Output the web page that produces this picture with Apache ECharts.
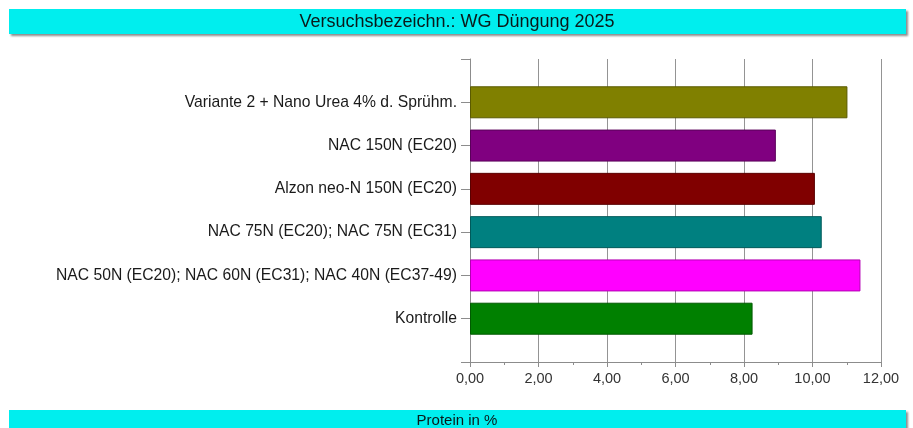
<!DOCTYPE html>
<html>
<head>
<meta charset="utf-8">
<script src="https://cdn.jsdelivr.net/npm/echarts@6.0.0/dist/echarts.min.js"></script>
<style>
	html, body { margin: 0; padding: 0; background: #ffffff; }
	#main { width: 913px; height: 428px; }
</style>
</head>
<body>
<div id="main"></div>
<script>
// Varianten, von oben nach unten wie im Bild
var categories = [
	'Variante 2 + Nano Urea 4% d. Sprühm.',
	'NAC 150N (EC20)',
	'Alzon neo-N 150N (EC20)',
	'NAC 75N (EC20); NAC 75N (EC31)',
	'NAC 50N (EC20); NAC 60N (EC31); NAC 40N (EC37-49)',
	'Kontrolle'
];
var proteinValues = [11.02, 8.93, 10.07, 10.27, 11.40, 8.25];
var xTicks = [0, 2, 4, 6, 8, 10, 12];
var chartTitle = 'Versuchsbezeichn.: WG Düngung 2025';
var axisTitle = 'Protein in %';

function ProteinChart(divId, title, xTitle) {
	var _title;
	var _xTitle;
	var _categories = [];
	var _values = [];
	var chartOption;
	var myChart = echarts.init(document.getElementById(divId));

	var barColors = ['#808000', '#800080', '#800000', '#008080', '#ff00ff', '#008000'];
	var borderColors = ['#5a5a00', '#5a005a', '#5a0000', '#005a5a', '#b300b3', '#005a00'];

	// leere Kategorie oben und unten, damit die Achse Luft hat
	function dataFormat() {
		_categories.push('');
		_values.push(null);
		for (var i = 0; i < categories.length; i++) {
			_categories.push(categories[i]);
			_values.push({
				value : proteinValues[i],
				itemStyle : {
					color : barColors[i],
					borderColor : borderColors[i],
					borderWidth : 1
				}
			});
		}
		_categories.push('');
		_values.push(null);
	}

	function fmt(v) {
		return v.toFixed(2).replace('.', ',');
	}

	function banner(y, h, textY, size, text) {
		return {
			type : 'group',
			children : [
				{
					type : 'rect',
					shape : { x : 9, y : y, width : 897, height : h },
					style : {
						fill : '#00eeee',
						shadowColor : 'rgba(0,0,0,0.45)',
						shadowBlur : 2,
						shadowOffsetX : 2,
						shadowOffsetY : 2
					}
				},
				{
					type : 'text',
					x : 457,
					y : textY,
					style : {
						text : text,
						fill : '#0a1a1a',
						font : size + 'px "Liberation Sans", Arial, sans-serif',
						textAlign : 'center',
						textVerticalAlign : 'middle'
					}
				}
			]
		};
	}

	function initOption() {
		chartOption = {
			animation : false,
			textStyle : { fontFamily : '"Liberation Sans", Arial, sans-serif' },
			grid : {
				left : 470,
				right : 32,
				top : 59,
				height : 303
			},
			xAxis : {
				type : 'value',
				min : xTicks[0],
				max : xTicks[xTicks.length - 1],
				interval : 2,
				axisLine : { show : true, lineStyle : { color : '#8c8c8c' } },
				axisTick : { show : true, length : 5, lineStyle : { color : '#8c8c8c' } },
				minorTick : { show : true, splitNumber : 2, length : 3, lineStyle : { color : '#8c8c8c' } },
				splitLine : { show : true, lineStyle : { color : '#949494', width : 1 } },
				axisLabel : {
					color : '#333333',
					fontSize : 14.5,
					margin : 9,
					formatter : function (v) { return fmt(v); }
				}
			},
			yAxis : {
				type : 'category',
				inverse : true,
				boundaryGap : false,
				data : _categories,
				axisLine : { show : true, lineStyle : { color : '#8c8c8c' } },
				axisTick : { show : true, length : 9, interval : 0, lineStyle : { color : '#8c8c8c' } },
				axisLabel : {
					color : '#1a1a1a',
					fontSize : 15.7,
					margin : 13,
					interval : 0
				}
			},
			series : [
				{
					type : 'bar',
					barWidth : 32,
					data : _values
				}
			],
			graphic : [
				banner(9, 25, 22, 18, _title),
				banner(410, 24, 421, 15, _xTitle)
			]
		};
	}

	function repaint() {
		myChart.setOption(chartOption);
	}

	this.draw = function() {
		repaint();
	};

	// Constructor Code.
	_title = title;
	_xTitle = xTitle;
	dataFormat();
	initOption();
}

var chart = new ProteinChart('main', chartTitle, axisTitle);
chart.draw();
</script>
</body>
</html>
